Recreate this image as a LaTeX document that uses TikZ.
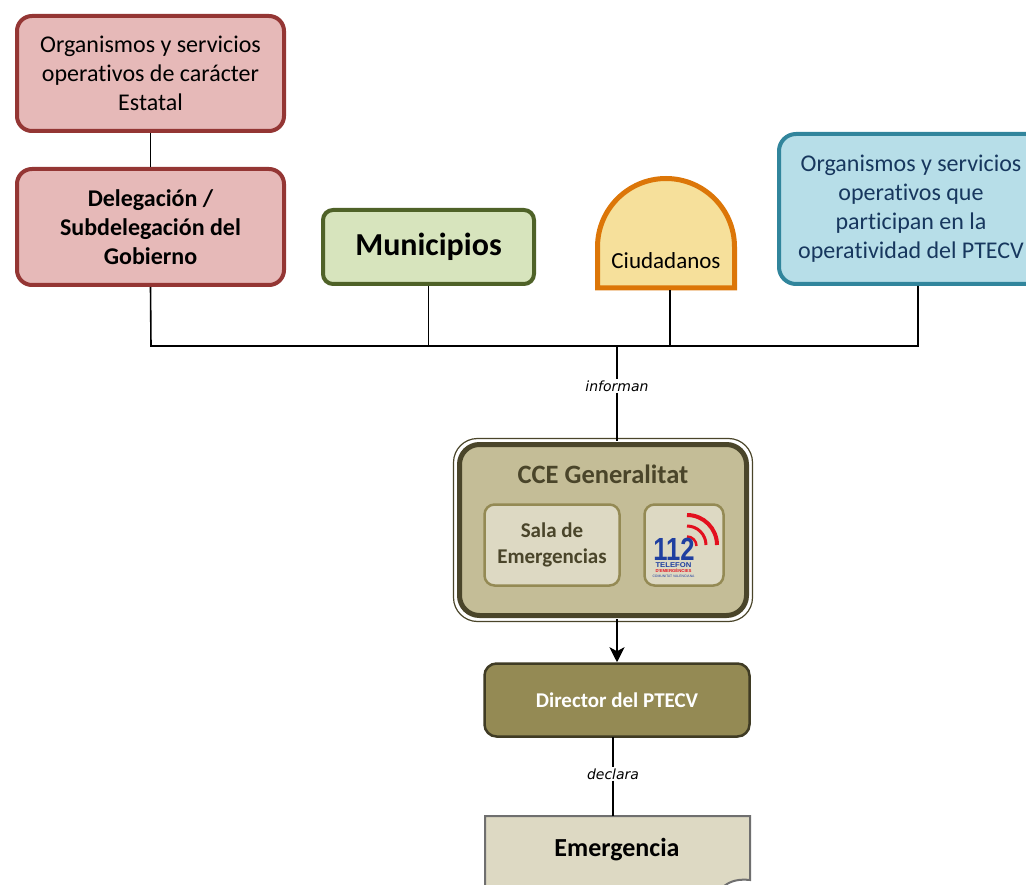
\documentclass[tikz,border=0pt]{standalone}
\usepackage{fontspec}
\usepackage{graphicx}
\setmainfont{Carlito}[Ligatures=NoCommon]
\newfontfamily\verd{DejaVu Sans}
\newfontfamily\lsans{Liberation Sans}
\usetikzlibrary{arrows.meta}
\definecolor{redB}{HTML}{943634}
\definecolor{redF}{HTML}{E6B9B8}
\definecolor{grnB}{HTML}{4F6228}
\definecolor{grnF}{HTML}{D7E4BD}
\definecolor{orgB}{HTML}{DC7608}
\definecolor{orgF}{HTML}{F6E09B}
\definecolor{bluB}{HTML}{31859C}
\definecolor{bluF}{HTML}{B7DEE8}
\definecolor{bluT}{HTML}{17375E}
\definecolor{olvD}{HTML}{4A452A}
\definecolor{olvF}{HTML}{C4BD97}
\definecolor{olvL}{HTML}{DDD9C3}
\definecolor{olvM}{HTML}{948A54}
\definecolor{grayB}{HTML}{6F6F6F}
\definecolor{logoBlue}{HTML}{1F3FA0}
\definecolor{logoRed}{HTML}{E3101E}
\begin{document}
\begin{tikzpicture}[x=1pt,y=-1pt,
  conn/.style={draw=black,line width=1.6pt},
  bigbox/.style={draw,line width=4pt,align=center,inner sep=0pt},
  lbl/.style={font=\verd\itshape\fontsize{14}{16}\selectfont,inner sep=1pt},
  logotxt/.style={inner sep=0pt,anchor=base},
]
\useasboundingbox (0,0) rectangle (1026,885);
\clip (0,0) rectangle (1026,885);

% top left boxes
\node[bigbox,draw=redB,fill=redF,rounded corners=15pt,minimum width=267pt,minimum height=115pt,
  font=\fontsize{24}{29}\selectfont] (orgE) at (150.5,73.5)
  {Organismos y servicios\\operativos de carácter\\Estatal};
\node[bigbox,draw=redB,fill=redF,rounded corners=15pt,minimum width=267pt,minimum height=116pt,
  font=\bfseries\fontsize{24}{29}\selectfont] (deleg) at (150.5,227)
  {Delegación /\\Subdelegación del\\Gobierno};

% Municipios
\node[bigbox,draw=grnB,fill=grnF,rounded corners=10pt,minimum width=211pt,minimum height=74pt,
  font=\bfseries\fontsize{32}{36}\selectfont] (muni) at (428.5,247) {Municipios};

% Ciudadanos
\draw[draw=orgB,fill=orgF,line width=5pt] (597.5,288) -- (597.5,247) arc[start angle=180,end angle=360,radius=68.5] -- (734.5,288) -- cycle;
\node[font=\fontsize{23}{26}\selectfont,inner sep=0pt] (ciud) at (666,261) {Ciudadanos};
\coordinate (ciudB) at (670,290);

% Right box
\node[bigbox,draw=bluB,fill=bluF,rounded corners=17pt,minimum width=264pt,minimum height=150pt,
  text=bluT,font=\fontsize{24}{29}\selectfont] (orgP) at (911,209)
  {Organismos y servicios\\operativos que\\participan en la\\operatividad del PTECV};
\coordinate (orgPB) at (918,286);

% bus
\coordinate (busL) at (151,346);
\coordinate (busR) at (918,346);
\coordinate (busM) at (617,346);
\draw[conn] (orgE.south) -- (deleg.north);
\draw[conn] (deleg.south) -- (busL) -- (busR) -- (orgPB);
\draw[conn] (muni.south) -- (muni.south |- busL);
\draw[conn] (ciudB) -- (ciudB |- busL);
\node[lbl] (inf) at (617,386) {informan};

% CCE
\node[draw=olvD,fill=white,line width=1.2pt,rounded corners=24pt,minimum width=299pt,minimum height=183pt] (cceO) at (603,530) {};
\node[draw=olvD,fill=olvF,line width=5pt,rounded corners=20pt,minimum width=287pt,minimum height=171pt] (cce) at (603,530) {};
\node[text=olvD,font=\bfseries\fontsize{26.5}{30}\selectfont,inner sep=0pt] (cceT) at (603,474) {CCE Generalitat};
\node[draw=olvM,fill=olvL,line width=2.5pt,rounded corners=10pt,minimum width=135pt,minimum height=81pt,
  align=center,text=olvD,font=\bfseries\fontsize{21}{26}\selectfont,inner sep=0pt] (sala) at (552,545) {Sala de\\Emergencias};
\node[draw=olvM,fill=olvL,line width=2.5pt,rounded corners=10pt,minimum width=79pt,minimum height=81pt] (l112) at (684,545) {};
% 112 logo
\draw[logoRed,line width=4pt] (687,515) arc[start angle=-90,end angle=0,radius=30];
\draw[logoRed,line width=3pt] (687,526) arc[start angle=-90,end angle=0,radius=19];
\draw[logoRed,line width=2.5pt] (687,536.5) arc[start angle=-90,end angle=0,radius=9.5];
\node[logotxt,text=logoBlue,font=\lsans\bfseries\fontsize{32}{32}\selectfont] (n112) at (674,560.5) {\scalebox{0.8}[1]{112}};
\node[logotxt,text=logoBlue,font=\lsans\bfseries\fontsize{7}{7}\selectfont] (tel) at (673.5,567.8) {\scalebox{1.1}[1]{TELEFON}};
\node[logotxt,text=logoRed,font=\lsans\bfseries\fontsize{4.3}{5}\selectfont] (demg) at (673.5,572.8) {D'EMERGÈNCIES};
\node[logotxt,text=logoBlue,font=\lsans\fontsize{3.4}{4}\selectfont] (cval) at (673.5,577.6) {COMUNITAT VALENCIANA};

% Director
\node[draw=olvD!85!black,fill=olvM,line width=2.5pt,rounded corners=12pt,minimum width=265pt,minimum height=73pt,
  text=white,font=\bfseries\fontsize{21}{24}\selectfont] (dir) at (617,700) {Director del PTECV};

\coordinate (cceIn) at (617,441);
\coordinate (cceOut) at (617,619);
\draw[conn] (busM) -- (inf.north);
\draw[conn] (inf.south) -- (cceIn);
\draw[black,line width=2.5pt,-{Stealth[length=15pt,width=15pt,inset=4pt]}] (cceOut) -- (dir.north);

% Emergencia
\draw[draw=grayB,fill=olvL,line width=2pt] (485,900) -- (485,816) -- (750,816) -- (750,880)
  .. controls (740,879) and (730,880) .. (722,888) -- cycle;
\node[font=\bfseries\fontsize{26}{30}\selectfont,inner sep=0pt] (emerg) at (617,850) {Emergencia};
\coordinate (dirB) at (613,737);
\coordinate (emT) at (613,816);
\node[lbl] (decl) at (613,774) {declara};
\draw[conn] (dirB) -- (decl.north);
\draw[conn] (decl.south) -- (emT);
\end{tikzpicture}
\end{document}
